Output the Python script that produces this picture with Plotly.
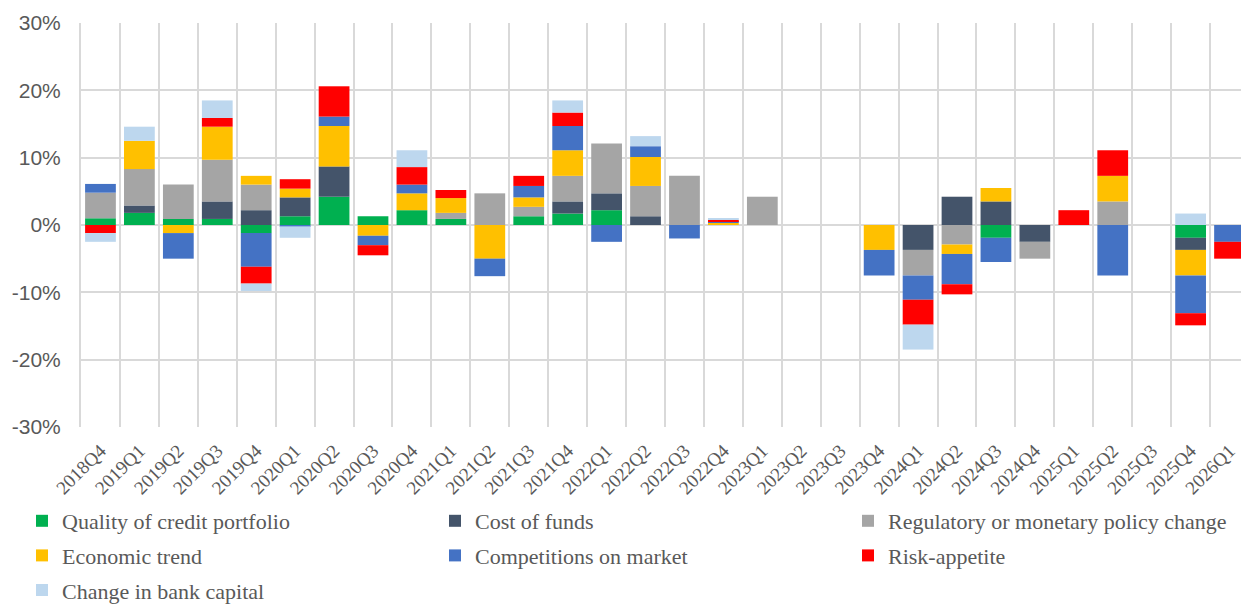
import plotly.graph_objects as go

quarters = ["2018Q4", "2019Q1", "2019Q2", "2019Q3", "2019Q4", "2020Q1", "2020Q2", "2020Q3",
            "2020Q4", "2021Q1", "2021Q2", "2021Q3", "2021Q4", "2022Q1", "2022Q2", "2022Q3",
            "2022Q4", "2023Q1", "2023Q2", "2023Q3", "2023Q4", "2024Q1", "2024Q2", "2024Q3",
            "2024Q4", "2025Q1", "2025Q2", "2025Q3", "2025Q4", "2026Q1"]

quality_credit = [1.0, 1.8, 0.9, 0.9, -1.2, 1.3, 4.2, 1.3, 2.2, 0.9, 0, 1.3, 1.7, 2.2, 0, 0,
                  0, 0, 0, 0, 0, 0, 0, -1.9, 0, 0, 0, 0, -1.9, 0]
cost_funds = [0, 1.1, 0, 2.6, 2.2, 2.8, 4.5, 0, 0, 0, 0, 0, 1.8, 2.5, 1.3, 0,
              0, 0, 0, 0, 0, -3.7, 4.2, 3.5, -2.5, 0, 0, 0, -1.8, 0]
regulatory = [3.8, 5.4, 5.1, 6.2, 3.8, 0, 0, 0, 0, 0.9, 4.7, 1.4, 3.8, 7.4, 4.5, 7.3,
              0, 4.2, 0, 0, 0, -3.8, -2.9, 0, -2.5, 0, 3.5, 0, 0, 0]
economic = [0, 4.2, -1.2, 4.9, 1.3, 1.3, 6.0, -1.6, 2.5, 2.2, -5.0, 1.4, 3.8, 0, 4.3, 0,
            0.3, 0, 0, 0, -3.7, 0, -1.4, 2.0, 0, 0, 3.8, 0, -3.8, 0]
competition = [1.3, 0, -3.8, 0, -5.0, -0.2, 1.4, -1.4, 1.3, 0, -2.6, 1.7, 3.6, -2.5, 1.6, -2.0,
               0.15, 0, 0, 0, -3.8, -3.6, -4.5, -3.6, 0, 0, -7.5, 0, -5.6, -2.5]
risk_appetite = [-1.2, 0, 0, 1.3, -2.5, 1.4, 4.5, -1.5, 2.6, 1.2, 0, 1.5, 2.0, 0, 0, 0,
                 0.3, 0, 0, 0, 0, -3.7, -1.5, 0, 0, 2.2, 3.8, 0, -1.8, -2.5]
bank_capital = [-1.3, 2.1, 0, 2.6, -1.1, -1.7, 0, 0, 2.5, 0, 0, 0, 1.8, 0, 1.5, 0,
                0.15, 0, 0, 0, 0, -3.7, 0, 0, 0, 0, 0, 0, 1.7, 0]

series = [
    ("Quality of credit portfolio", quality_credit, "#00B050", "legend"),
    ("Cost of funds", cost_funds, "#44546A", "legend2"),
    ("Regulatory or monetary policy change", regulatory, "#A5A5A5", "legend3"),
    ("Economic trend", economic, "#FFC000", "legend"),
    ("Competitions on market", competition, "#4472C4", "legend2"),
    ("Risk-appetite", risk_appetite, "#FF0000", "legend3"),
    ("Change in bank capital", bank_capital, "#BDD7EE", "legend"),
]

y_ticks = [-30, -20, -10, 0, 10, 20, 30]
y_tick_text = ["-30%", "-20%", "-10%", "0%", "10%", "20%", "30%"]

FIG_W, FIG_H = 1241, 597  # page body adds an 8px margin

fig = go.Figure()
for i, (name, vals, color, leg) in enumerate(series):
    fig.add_trace(go.Bar(x=quarters, y=vals, name=name, legend=leg, legendgroup=f"g{i}",
                         marker=dict(color=color, line=dict(width=0))))

legend_font = dict(family="Liberation Serif", size=22, color="#595959")


def legend_cfg(xpix):
    return dict(
        orientation="v",
        xref="container", yref="container",
        x=xpix / FIG_W, y=1 - 492 / FIG_H, xanchor="left", yanchor="top",
        font=legend_font,
        traceorder="grouped",
        tracegroupgap=3,
        bgcolor="rgba(0,0,0,0)",
    )


fig.update_layout(
    width=FIG_W, height=FIG_H,
    barmode="relative",
    bargap=0.21,
    plot_bgcolor="white",
    paper_bgcolor="white",
    margin=dict(l=73, r=0, t=15, b=178, autoexpand=False),
    font=dict(family="Liberation Serif", color="#595959"),
    legend=legend_cfg(14),
    legend2=legend_cfg(427),
    legend3=legend_cfg(840),
)
fig.update_xaxes(
    type="category",
    tickson="boundaries",
    showgrid=True, gridcolor="#D9D9D9", gridwidth=2,
    showline=False,
    ticks="",
    tickangle=-45,
    tickfont=dict(family="Liberation Serif", size=19, color="#595959"),
    ticklabelstandoff=8,
    range=[-0.5, 29.5],
    automargin=False,
)
fig.update_yaxes(
    range=[-30, 30],
    tickvals=y_ticks, ticktext=y_tick_text,
    showgrid=True, gridcolor="#D9D9D9", gridwidth=2,
    zeroline=True, zerolinecolor="#D9D9D9", zerolinewidth=2,
    showline=True, linecolor="#D9D9D9", linewidth=2,
    tickfont=dict(family="Liberation Sans", size=21, color="#595959"),
    ticklabelstandoff=14,
    automargin=False,
)

fig.write_html("out.html")
